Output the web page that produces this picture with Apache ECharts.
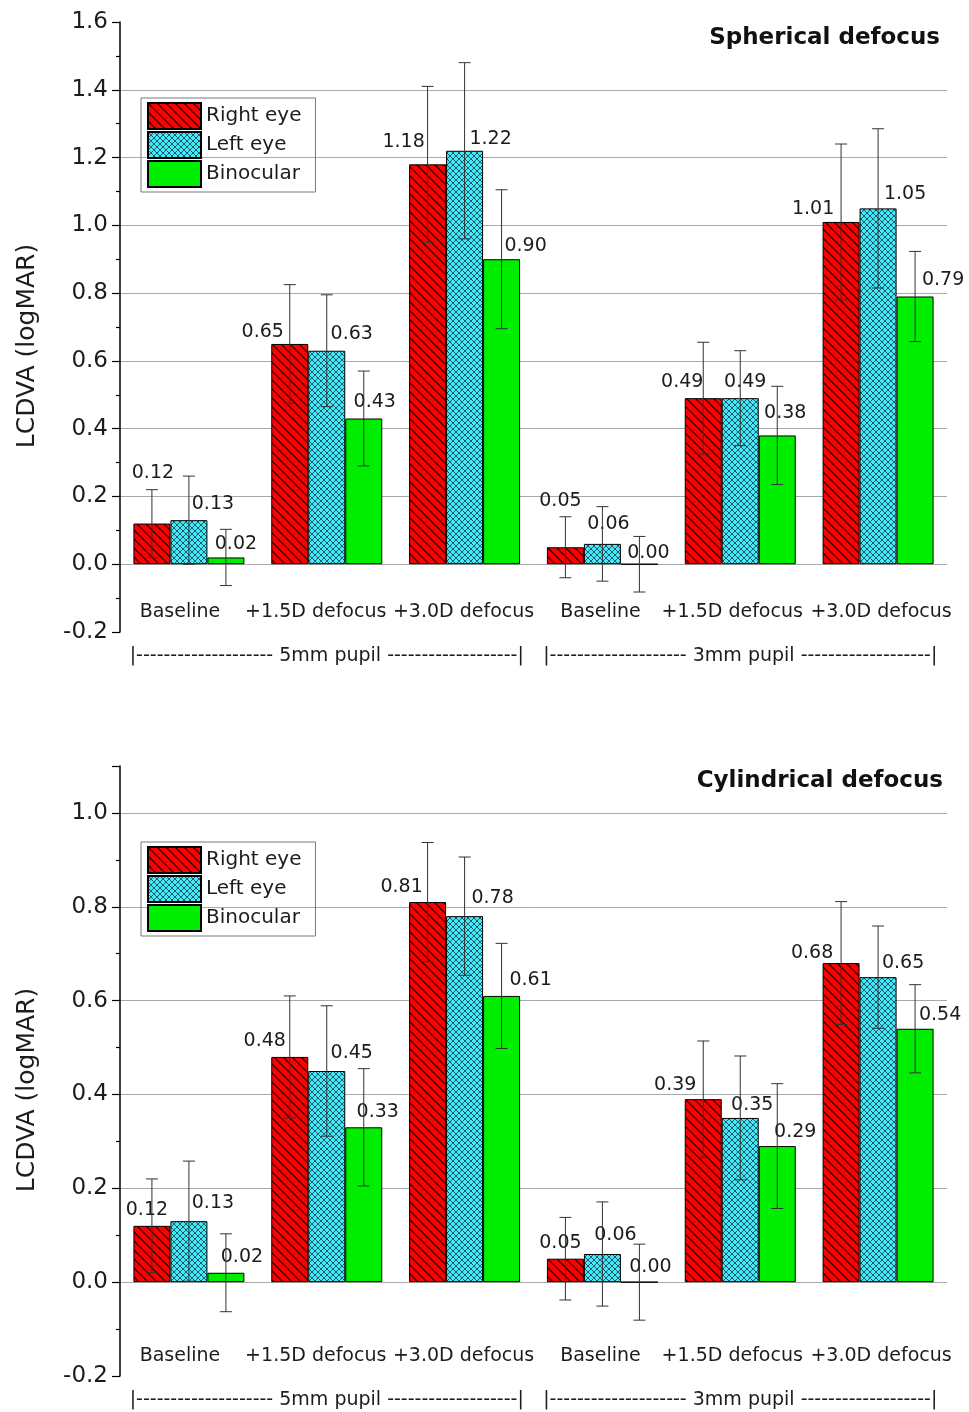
<!DOCTYPE html>
<html><head><meta charset="utf-8">
<script src="https://cdn.jsdelivr.net/npm/echarts@6/dist/echarts.min.js"></script>
<style>html,body{margin:0;padding:0;background:#fff}#c{width:969px;height:1412px}</style>
</head><body><div id="c"></div>
<script>
// ---------- data ----------
const categories = ['Baseline', '+1.5D defocus', '+3.0D defocus', 'Baseline', '+1.5D defocus', '+3.0D defocus'];
const pupilGroups = ['5mm pupil', '3mm pupil'];
const seriesNames = ['Right eye', 'Left eye', 'Binocular'];
const chartTitles = ['Spherical defocus', 'Cylindrical defocus'];
const yAxisName = 'LCDVA (logMAR)';

// Spherical defocus (mean, SD)
const sphRight = [0.12, 0.65, 1.18, 0.05, 0.49, 1.01];
const sphLeft = [0.13, 0.63, 1.22, 0.06, 0.49, 1.05];
const sphBin = [0.02, 0.43, 0.90, 0.00, 0.38, 0.79];
const sphRightSD = [0.10, 0.175, 0.23, 0.09, 0.165, 0.23];
const sphLeftSD = [0.13, 0.165, 0.26, 0.11, 0.14, 0.235];
const sphBinSD = [0.083, 0.14, 0.205, 0.082, 0.145, 0.133];

// Cylindrical defocus (mean, SD)
const cylRight = [0.12, 0.48, 0.81, 0.05, 0.39, 0.68];
const cylLeft = [0.13, 0.45, 0.78, 0.06, 0.35, 0.65];
const cylBin = [0.02, 0.33, 0.61, 0.00, 0.29, 0.54];
const cylRightSD = [0.10, 0.13, 0.127, 0.088, 0.124, 0.131];
const cylLeftSD = [0.128, 0.139, 0.126, 0.111, 0.132, 0.109];
const cylBinSD = [0.083, 0.125, 0.112, 0.081, 0.133, 0.094];

// y axis ranges
const yMinTop = -0.2, yMaxTop = 1.6;
const yMinBot = -0.2, yMaxBot = 1.1;
const yInterval = 0.2;

// ---------- layout / style (not data) ----------
const FONT = '"DejaVu Sans", "Liberation Sans", Arial, sans-serif';
const TXT = '#1c1c1c';
const BAR_W = 37;
const CAP = 6;
// horizontal shift of each category label (px)
const catLabelShift = [-9, -11, -1, -2, -8, 3];
// label center offset from bar top-center [dx, dy]
const sphLabelOff = [
  [[1, -50], [-27, -12], [-24, -22], [-5, -46], [-21, -16], [-28, -13]],
  [[24, -16], [25, -17], [26, -12], [6, -20], [5, -16], [27, -14]],
  [[10, -13], [11, -16], [24, -13], [9, -11], [8, -22], [28, -16]]
];
const cylLabelOff = [
  [[-5, -16], [-25, -16], [-26, -15], [-5, -16], [-28, -14], [-29, -10]],
  [[24, -18], [25, -18], [28, -18], [13, -19], [12, -13], [25, -14]],
  [[16, -16], [14, -15], [29, -16], [11, -15], [18, -14], [25, -14]]
];

function tile(s, base, stroke, lw, dirs) {
  const c = document.createElement('canvas');
  c.width = s; c.height = s;
  const g = c.getContext('2d');
  g.fillStyle = base; g.fillRect(0, 0, s, s);
  g.strokeStyle = stroke; g.lineWidth = lw;
  g.beginPath();
  for (let k = -1; k <= 1; k++) {
    if (dirs.indexOf('\\') >= 0) { g.moveTo(k * s - 1, -1); g.lineTo(k * s + s + 1, s + 1); }
    if (dirs.indexOf('/') >= 0) { g.moveTo(k * s + s + 1, -1); g.lineTo(k * s - 1, s + 1); }
  }
  g.stroke();
  return c;
}
const redPattern = { image: tile(9, '#ff0000', '#3a0000', 1.3, '\\'), repeat: 'repeat' };
const cyanPattern = { image: tile(6, '#40ecec', '#22557f', 1.0, '\\/'), repeat: 'repeat' };
const greenColor = '#00ee00';
const colors = [redPattern, cyanPattern, greenColor];

const grids = [
  { left: 120, top: 22, width: 827, height: 610 },
  { left: 120, top: 766, width: 827, height: 610 }
];

function yAxis(gi, min, max) {
  return {
    type: 'value', gridIndex: gi, min: min, max: max, interval: yInterval,
    name: yAxisName, nameLocation: 'middle', nameGap: 80, nameRotate: 90,
    nameTextStyle: { fontFamily: FONT, fontSize: 25, color: TXT, padding: [0, 38, 0, 0] },
    axisLine: { show: true, onZero: false, lineStyle: { color: '#000', width: 1.5 } },
    axisTick: { show: true, length: 8, lineStyle: { color: '#000', width: 1.2 } },
    minorTick: { show: true, splitNumber: 2, length: 4, lineStyle: { color: '#000', width: 1.2 } },
    axisLabel: {
      fontFamily: FONT, fontSize: 23, color: TXT, margin: 12,
      formatter: function (v) { return Math.abs(Math.round(v * 5) - v * 5) < 1e-6 ? v.toFixed(1) : ''; }
    },
    splitLine: { show: true, showMinLine: false, showMaxLine: false, lineStyle: { color: '#a8a8a8', width: 1 } }
  };
}
function catData() {
  return categories.map(function (c, i) {
    const s = catLabelShift[i];
    return { value: c, textStyle: { padding: s < 0 ? [0, -2 * s, 0, 0] : [0, 0, 0, 2 * s] } };
  });
}
function xAxes(gi) {
  return [
    {
      type: 'category', gridIndex: gi, data: catData(), position: 'bottom',
      axisLine: { show: false, onZero: false }, axisTick: { show: false },
      axisLabel: { interval: 0, margin: -29, fontFamily: FONT, fontSize: 19, color: TXT },
      splitLine: { show: false }
    },
    {
      type: 'category', gridIndex: gi, data: pupilGroups, position: 'bottom',
      axisLine: { show: false, onZero: false }, axisTick: { show: false },
      axisLabel: {
        interval: 0, margin: 15, fontFamily: FONT, fontSize: 19, color: TXT,
        formatter: function (v) { return '|' + '-'.repeat(20) + ' ' + v + ' ' + '-'.repeat(19) + '|'; }
      },
      splitLine: { show: false }
    }
  ];
}

function barSeries(si, vals, offs, gi) {
  return {
    type: 'bar', name: seriesNames[si], xAxisIndex: gi * 2, yAxisIndex: gi,
    barWidth: BAR_W, barGap: '0%',
    itemStyle: { color: colors[si], borderColor: '#000', borderWidth: 1 },
    label: {
      show: true, position: 'top', distance: 0, fontFamily: FONT, fontSize: 19, lineHeight: 20, color: TXT,
      formatter: function (p) { return Number(p.value).toFixed(2); }
    },
    data: vals.map(function (v, i) { return { value: v, label: { offset: [offs[i][0], offs[i][1] + 10] } }; }),
    emphasis: { disabled: true }, z: 2
  };
}
function errSeries(si, vals, sds, gi) {
  return {
    type: 'custom', name: 'err-' + gi + '-' + si, xAxisIndex: gi * 2, yAxisIndex: gi, z: 5,
    encode: { x: 0, y: 1 },
    data: vals.map(function (v, i) { return [i, v, sds[i]]; }),
    renderItem: function (params, api) {
      const c = api.value(0), v = api.value(1), sd = api.value(2);
      const x = api.coord([c, v])[0] + (si - 1) * BAR_W;
      const yT = api.coord([c, v + sd])[1];
      const yB = api.coord([c, v - sd])[1];
      const st = { stroke: '#333', lineWidth: 1 };
      return {
        type: 'group', children: [
          { type: 'line', shape: { x1: x, y1: yT, x2: x, y2: yB }, style: st },
          { type: 'line', shape: { x1: x - CAP, y1: yT, x2: x + CAP, y2: yT }, style: st },
          { type: 'line', shape: { x1: x - CAP, y1: yB, x2: x + CAP, y2: yB }, style: st }
        ]
      };
    },
    silent: true
  };
}
function legend(top) {
  return {
    data: seriesNames, orient: 'vertical', left: 141, top: top, icon: 'rect',
    itemWidth: 53, itemHeight: 26, itemGap: 1,
    padding: [4, 14, 4, 6], borderColor: '#7a7a7a', borderWidth: 1,
    textStyle: { fontFamily: FONT, fontSize: 20, lineHeight: 20, color: TXT },
    selectedMode: false
  };
}

const option = {
  animation: false,
  backgroundColor: '#fff',
  title: [
    { text: chartTitles[0], right: 29, top: 27, padding: 0, textStyle: { fontFamily: FONT, fontSize: 23, fontWeight: 'bold', color: '#111' } },
    { text: chartTitles[1], right: 26, top: 770, padding: 0, textStyle: { fontFamily: FONT, fontSize: 23, fontWeight: 'bold', color: '#111' } }
  ],
  legend: [legend(98), legend(842)],
  grid: grids,
  xAxis: xAxes(0).concat(xAxes(1)),
  yAxis: [yAxis(0, yMinTop, yMaxTop), yAxis(1, yMinBot, yMaxBot)],
  series: [
    barSeries(0, sphRight, sphLabelOff[0], 0),
    barSeries(1, sphLeft, sphLabelOff[1], 0),
    barSeries(2, sphBin, sphLabelOff[2], 0),
    barSeries(0, cylRight, cylLabelOff[0], 1),
    barSeries(1, cylLeft, cylLabelOff[1], 1),
    barSeries(2, cylBin, cylLabelOff[2], 1),
    errSeries(0, sphRight, sphRightSD, 0),
    errSeries(1, sphLeft, sphLeftSD, 0),
    errSeries(2, sphBin, sphBinSD, 0),
    errSeries(0, cylRight, cylRightSD, 1),
    errSeries(1, cylLeft, cylLeftSD, 1),
    errSeries(2, cylBin, cylBinSD, 1)
  ]
};
const chart = echarts.init(document.getElementById('c'), null, { renderer: 'canvas' });
chart.setOption(option);
</script>
</body></html>
